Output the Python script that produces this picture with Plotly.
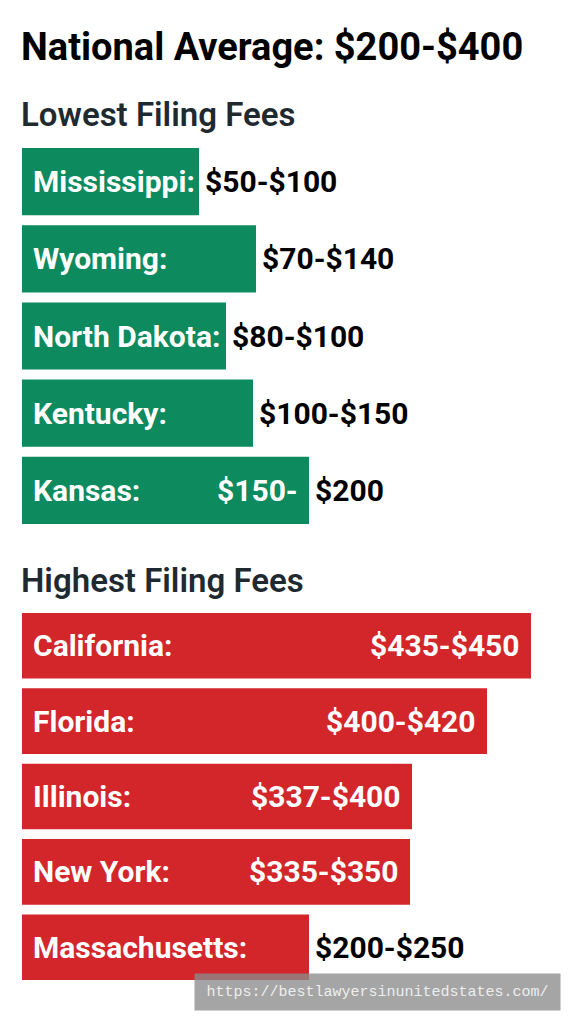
import plotly.graph_objects as go

# lowest filing fees (green group)
low_states = ["Mississippi:", "Wyoming:", "North Dakota:", "Kentucky:", "Kansas:"]
low_lengths = [177, 234, 204, 231, 287]
low_inside = ["", "", "", "", "$150-"]
low_outside = ["$50-$100", "$70-$140", "$80-$100", "$100-$150", "$200"]

# highest filing fees (red group)
high_states = ["California:", "Florida:", "Illinois:", "New York:", "Massachusetts:"]
high_lengths = [509, 465, 390, 388, 287]
high_inside = ["$435-$450", "$400-$420", "$337-$400", "$335-$350", ""]
high_outside = ["", "", "", "", "$200-$250"]

GREEN = "#0d8a5e"
RED = "#d3262a"
FONT = "Roboto"
OFF = 8  # the page body adds an 8px margin around the plot
W, H = 572 - OFF, 1024 - OFF


def py(px):
    # reference pixel row -> paper y
    return 1 - (px - OFF) / H


fig = go.Figure()
fig.add_trace(go.Bar(x=low_lengths, y=low_states, orientation="h",
                     marker=dict(color=GREEN, line_width=0),
                     xaxis="x", yaxis="y", hoverinfo="skip"))
fig.add_trace(go.Bar(x=high_lengths, y=high_states, orientation="h",
                     marker=dict(color=RED, line_width=0),
                     xaxis="x2", yaxis="y2", hoverinfo="skip"))

annotations = []


def add_labels(states, lengths, inside, outside, xr, yr):
    for s, v, t_in, t_out in zip(states, lengths, inside, outside):
        annotations.append(dict(x=0, y=s, xref=xr, yref=yr, text=s, showarrow=False,
                                xanchor="left", xshift=9,
                                font=dict(family=FONT, size=30, color="white", weight="bold")))
        if t_in:
            annotations.append(dict(x=v, y=s, xref=xr, yref=yr, text=t_in, showarrow=False,
                                    xanchor="right", xshift=-9,
                                    font=dict(family=FONT, size=30, color="white", weight="bold")))
        if t_out:
            annotations.append(dict(x=v, y=s, xref=xr, yref=yr, text=t_out, showarrow=False,
                                    xanchor="left", xshift=4,
                                    font=dict(family=FONT, size=30, color="black", weight="bold")))


add_labels(low_states, low_lengths, low_inside, low_outside, "x", "y")
add_labels(high_states, high_lengths, high_inside, high_outside, "x2", "y2")

# headings
annotations.append(dict(x=0, y=py(47), xref="paper", yref="paper", xanchor="left", yanchor="middle",
                        text="National Average: $200-$400", showarrow=False, xshift=-3,
                        font=dict(family=FONT, size=38, color="black", weight="bold")))
annotations.append(dict(x=0, y=py(114), xref="paper", yref="paper", xanchor="left", yanchor="middle",
                        text="Lowest Filing Fees", showarrow=False, xshift=-3,
                        font=dict(family=FONT, size=33, color="#1f2a30", weight=600)))
annotations.append(dict(x=0, y=py(580), xref="paper", yref="paper", xanchor="left", yanchor="middle",
                        text="Highest Filing Fees", showarrow=False, xshift=-3,
                        font=dict(family=FONT, size=33, color="#1f2a30", weight=600)))

# watermark
annotations.append(dict(x=(194 - 22) / (W - 14), y=py(1011), xref="paper", yref="paper",
                        xanchor="left", yanchor="bottom", width=363, height=34, align="center",
                        text="https://bestlawyersinunitedstates.com/", showarrow=False,
                        bgcolor="rgba(140,140,140,0.78)",
                        font=dict(family="Liberation Mono", size=15, color="#eeeeee")))

axis_x = dict(range=[0, W - 14], visible=False, fixedrange=True)
fig.update_layout(
    width=W, height=H,
    margin=dict(l=22 - OFF, r=0, t=0, b=0),
    paper_bgcolor="white", plot_bgcolor="white",
    showlegend=False,
    bargap=0.13,
    xaxis=dict(axis_x, anchor="y"),
    xaxis2=dict(axis_x, anchor="y2"),
    yaxis=dict(domain=[py(529), py(143)], autorange="reversed", visible=False, fixedrange=True),
    yaxis2=dict(domain=[py(985), py(608)], autorange="reversed", visible=False, fixedrange=True),
    annotations=annotations,
)

fig.write_html("out.html", config={"displayModeBar": False})
